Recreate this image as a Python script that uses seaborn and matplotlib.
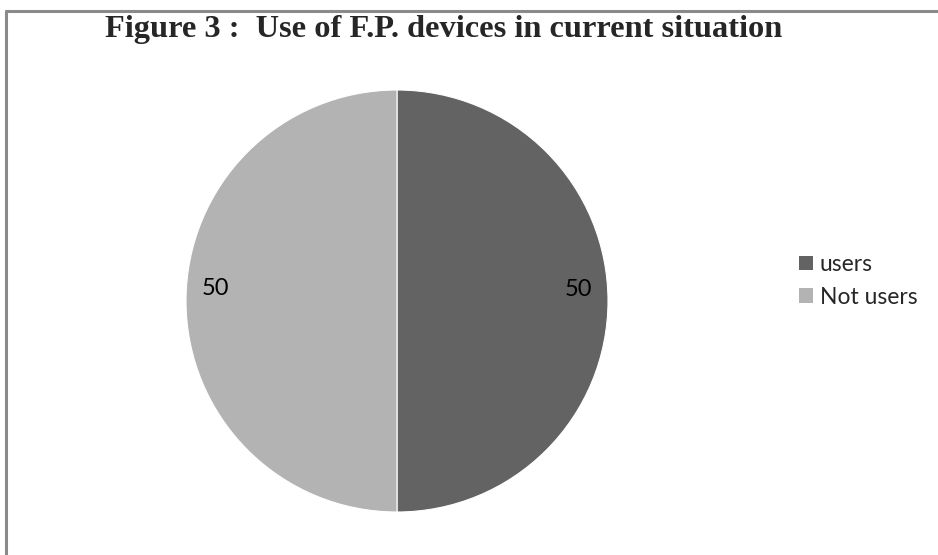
import matplotlib
matplotlib.use("Agg")
import matplotlib.pyplot as plt
import seaborn as sns
from matplotlib.lines import Line2D
from matplotlib.patches import Patch
import matplotlib.transforms as mtransforms

categories = ["users", "Not users"]
values = [50, 50]
colors = ["#636363", "#b3b3b3"]
title = "Figure 3 :  Use of F.P. devices in current situation"

sns.set_theme(style="white")
plt.rcParams['font.family'] = ['Lato', 'DejaVu Sans']

W, H = 938, 555
fig = plt.figure(figsize=(W / 100, H / 100), dpi=100)
fig.patch.set_facecolor("white")

cx, cy, r = 397, 301, 211
ax = fig.add_axes([(cx - r) / W, (H - cy - r) / H, 2 * r / W, 2 * r / H])
wedges, texts = ax.pie(
    values, colors=colors, startangle=90, counterclock=False,
    labels=[str(v) for v in values], labeldistance=0.86,
    wedgeprops=dict(linewidth=0.8, edgecolor="white"),
    textprops=dict(fontsize=17, color="black", ha="center", va="center"),
    radius=1,
)
offset = mtransforms.ScaledTranslation(0, 12 / 100, fig.dpi_scale_trans)
for t in texts:
    t.set_transform(t.get_transform() + offset)
ax.set_xlim(-1, 1)
ax.set_ylim(-1, 1)
ax.set_aspect("equal")
ax.axis("off")

handles = [Patch(facecolor=c, edgecolor="none") for c in colors]
fig.legend(handles, categories, loc="center left",
           bbox_to_anchor=(790 / W, 1 - 281 / H), frameon=False,
           fontsize=16.5, handlelength=0.6, handleheight=0.6,
           handletextpad=0.3, labelspacing=0.5, borderaxespad=0)

fig.text(105 / W, 1 - 30 / H, title, fontsize=23.3, fontweight="bold",
         family=["Liberation Serif"], ha="left", va="center")

border = "#8a8a8a"
fig.add_artist(Line2D([5.5 / W, 1], [1 - 11 / H, 1 - 11 / H], color=border, lw=2.2,
                      transform=fig.transFigure))
fig.add_artist(Line2D([6 / W, 6 / W], [0, 1 - 11 / H], color=border, lw=2.2,
                      transform=fig.transFigure))

fig.savefig("out.png", dpi=100, facecolor="white")
